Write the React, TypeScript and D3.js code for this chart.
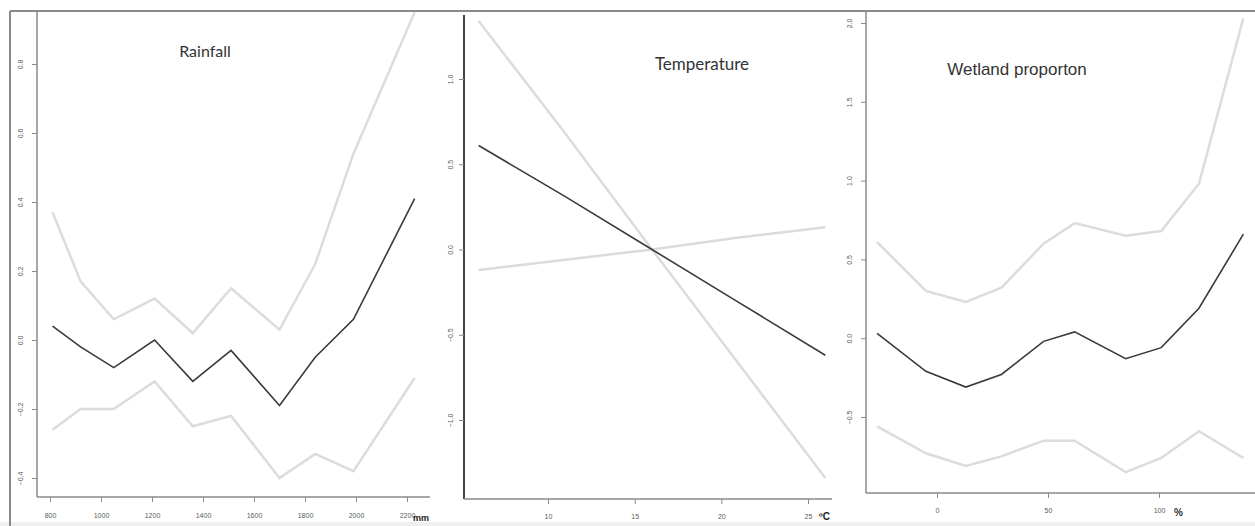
import { useRef, useEffect } from "react";
import * as d3 from "d3";

// Rainfall panel (mm)
const rainMm = [810, 920, 1050, 1210, 1360, 1510, 1700, 1840, 1990, 2230];
const rainFit = [0.04, -0.02, -0.08, 0.0, -0.12, -0.03, -0.19, -0.05, 0.06, 0.41];
const rainUpper = [0.37, 0.17, 0.06, 0.12, 0.02, 0.15, 0.03, 0.22, 0.54, 0.95];
const rainLower = [-0.26, -0.2, -0.2, -0.12, -0.25, -0.22, -0.4, -0.33, -0.38, -0.11];
const rainXTicks = [800, 1000, 1200, 1400, 1600, 1800, 2000, 2200];
const rainYTicks = [-0.4, -0.2, 0, 0.2, 0.4, 0.6, 0.8];

// Temperature panel (ºC)
const tempC = [6, 11, 16, 21, 26];
const tempFit = [0.61, 0.31, 0.0, -0.31, -0.62];
const tempSteep = [1.34, 0.68, 0.0, -0.67, -1.34];
const tempFlat = [-0.12, -0.06, 0.0, 0.07, 0.13];
const tempXTicks = [10, 15, 20, 25];
const tempYTicks = [-1, -0.5, 0, 0.5, 1];

// Wetland proportion panel (%)
const wetPct = [-27, -5, 13, 29, 48, 62, 85, 101, 118, 138];
const wetFit = [0.03, -0.21, -0.31, -0.23, -0.02, 0.04, -0.13, -0.06, 0.19, 0.66];
const wetUpper = [0.61, 0.3, 0.23, 0.32, 0.6, 0.73, 0.65, 0.68, 0.98, 2.03];
const wetLower = [-0.56, -0.73, -0.81, -0.75, -0.65, -0.65, -0.85, -0.76, -0.59, -0.76];
const wetXTicks = [0, 50, 100];
const wetYTicks = [-0.5, 0, 0.5, 1, 1.5, 2];

const BAND = "#dcdcdc";
const FIT = "#3a3a3a";

type Line = { xs: number[]; ys: number[]; fit: boolean };

function Panel({
  x,
  y,
  xTicks,
  yTicks,
  xFmt,
  left,
  top,
  bottom,
  right,
  yLabelOff,
  xPad,
  yAxisColor,
  yAxisWidth,
  lines,
}: {
  x: d3.ScaleLinear<number, number>;
  y: d3.ScaleLinear<number, number>;
  xTicks: number[];
  yTicks: number[];
  xFmt: (d: number) => string;
  left: number;
  top: number;
  bottom: number;
  right: number;
  yLabelOff: number;
  xPad: number;
  yAxisColor: string;
  yAxisWidth: number;
  lines: Line[];
}) {
  const axesRef = useRef<SVGGElement>(null);

  useEffect(() => {
    const g = d3.select(axesRef.current);
    g.selectAll("*").remove();

    const yAxis = g
      .append("g")
      .attr("transform", `translate(${left},0)`)
      .call(
        d3
          .axisLeft(y)
          .tickValues(yTicks)
          .tickSize(5)
          .tickFormat((d) => d3.format(".1f")(d as number))
      );
    yAxis.select(".domain").remove();
    yAxis.selectAll("line").attr("stroke", "#8a8a8a");
    yAxis
      .selectAll("text")
      .attr("x", null)
      .attr("dy", null)
      .attr("transform", `translate(${-yLabelOff},0) rotate(-90)`)
      .attr("text-anchor", "middle")
      .attr("fill", "#5a5a5a")
      .attr("font-size", 7);

    const xAxis = g
      .append("g")
      .attr("transform", `translate(0,${bottom})`)
      .call(
        d3
          .axisBottom(x)
          .tickValues(xTicks)
          .tickSize(5)
          .tickPadding(xPad)
          .tickFormat((d) => xFmt(d as number))
      );
    xAxis.select(".domain").remove();
    xAxis.selectAll("line").attr("stroke", "#8a8a8a");
    xAxis.selectAll("text").attr("fill", "#5a5a5a").attr("font-size", 7);
  }, [x, y, xTicks, yTicks, xFmt, left, bottom, yLabelOff, xPad]);

  const lineGen = (l: Line) =>
    d3
      .line<number>()
      .x((_, i) => x(l.xs[i]))
      .y((d) => y(d))(l.ys) || "";

  return (
    <g>
      {lines
        .filter((l) => !l.fit)
        .map((l, i) => (
          <path key={"b" + i} d={lineGen(l)} fill="none" stroke={BAND} strokeWidth={2.5} />
        ))}
      {lines
        .filter((l) => l.fit)
        .map((l, i) => (
          <path key={"f" + i} d={lineGen(l)} fill="none" stroke={FIT} strokeWidth={1.6} />
        ))}
      <line x1={left} x2={left} y1={top} y2={bottom} stroke={yAxisColor} strokeWidth={yAxisWidth} />
      <line x1={left} x2={right} y1={bottom} y2={bottom} stroke="#8a8a8a" strokeWidth={1.5} />
      <g ref={axesRef} fontFamily="'Liberation Sans', Arial, sans-serif" />
    </g>
  );
}

export default function App() {
  const rainX = d3.scaleLinear().domain([800, 2200]).range([50, 407]);
  const rainY = d3.scaleLinear().domain([-0.4, 0.8]).range([478, 64]);
  const tempX = d3.scaleLinear().domain([10, 25]).range([548, 808]);
  const tempY = d3.scaleLinear().domain([-1, 1]).range([420, 79]);
  const wetX = d3.scaleLinear().domain([0, 100]).range([937, 1159]);
  const wetY = d3.scaleLinear().domain([-0.5, 2]).range([417, 23]);
  const fmt = (d: number) => String(d);

  return (
    <svg
      width={1255}
      height={526}
      style={{ position: "absolute", left: 0, top: 0, background: "#fff" }}
    >
      <rect x={0} y={522} width={1255} height={4} fill="#efefef" />
      <line x1={10} x2={1255} y1={11} y2={11} stroke="#8a8a8a" strokeWidth={2} />
      <line x1={10} x2={10} y1={11} y2={526} stroke="#8a8a8a" strokeWidth={2} />

      <Panel
        x={rainX}
        y={rainY}
        xTicks={rainXTicks}
        yTicks={rainYTicks}
        xFmt={fmt}
        left={37}
        top={11}
        bottom={497}
        right={430}
        yLabelOff={14}
        xPad={11}
        yAxisColor="#8a8a8a"
        yAxisWidth={1.5}
        lines={[
          { xs: rainMm, ys: rainUpper, fit: false },
          { xs: rainMm, ys: rainLower, fit: false },
          { xs: rainMm, ys: rainFit, fit: true },
        ]}
      />
      <Panel
        x={tempX}
        y={tempY}
        xTicks={tempXTicks}
        yTicks={tempYTicks}
        xFmt={fmt}
        left={464}
        top={15}
        bottom={499}
        right={832}
        yLabelOff={11}
        xPad={10}
        yAxisColor="#444"
        yAxisWidth={2}
        lines={[
          { xs: tempC, ys: tempSteep, fit: false },
          { xs: tempC, ys: tempFlat, fit: false },
          { xs: tempC, ys: tempFit, fit: true },
        ]}
      />
      <Panel
        x={wetX}
        y={wetY}
        xTicks={wetXTicks}
        yTicks={wetYTicks}
        xFmt={fmt}
        left={866}
        top={11}
        bottom={493}
        right={1255}
        yLabelOff={14}
        xPad={10}
        yAxisColor="#8a8a8a"
        yAxisWidth={1.5}
        lines={[
          { xs: wetPct, ys: wetUpper, fit: false },
          { xs: wetPct, ys: wetLower, fit: false },
          { xs: wetPct, ys: wetFit, fit: true },
        ]}
      />

      <text x={205} y={57} textAnchor="middle" fontFamily="Lato, sans-serif" fontSize={16} fill="#333">
        Rainfall
      </text>
      <text x={702} y={70} textAnchor="middle" fontFamily="Lato, sans-serif" fontSize={17} fill="#333">
        Temperature
      </text>
      <text
        x={1017}
        y={75}
        textAnchor="middle"
        fontFamily="'Liberation Sans', Arial, sans-serif"
        fontSize={17}
        fill="#333"
      >
        Wetland proporton
      </text>

      <text x={413} y={521} fontFamily="'Liberation Sans', Arial, sans-serif" fontSize={9} fontWeight="bold" fill="#222">
        mm
      </text>
      <text x={819} y={520} fontFamily="'Liberation Sans', Arial, sans-serif" fontSize={10} fontWeight="bold" fill="#222">
        ºC
      </text>
      <text x={1174} y={516} fontFamily="'Liberation Sans', Arial, sans-serif" fontSize={10} fontWeight="bold" fill="#333">
        %
      </text>
    </svg>
  );
}
